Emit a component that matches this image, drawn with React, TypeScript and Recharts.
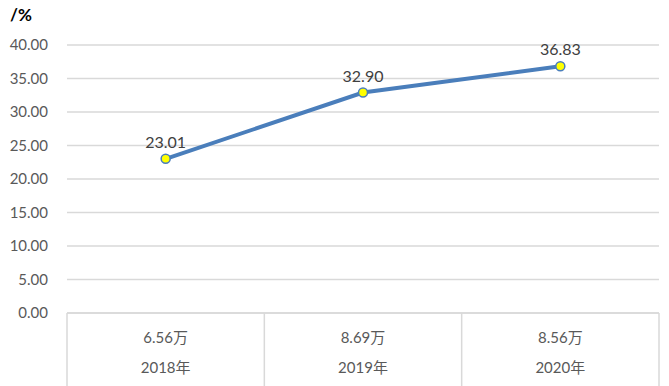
import { LineChart, Line, XAxis, YAxis, CartesianGrid, LabelList } from "recharts";

const years = ["2018年", "2019年", "2020年"];
const counts = ["6.56万", "8.69万", "8.56万"];
const rates = [23.01, 32.9, 36.83];
const yTicks = [0, 5, 10, 15, 20, 25, 30, 35, 40];

const data = years.map((year, i) => ({ year, count: counts[i], rate: rates[i] }));

const W = 669;
const H = 386;
const LEFT = 67;
const RIGHT = 659;
const AXIS_Y = 313;
const BAND = (RIGHT - LEFT) / years.length;
const GRID = "#d9d9d9";
const FONT = "Lato, 'Noto Sans CJK SC', sans-serif";

function CategoryTick(props: any) {
  const { x, payload, index } = props;
  const i = index ?? years.indexOf(payload.value);
  return (
    <g>
      {i === 0 && <line x1={x - BAND / 2} x2={x - BAND / 2} y1={AXIS_Y} y2={H} stroke={GRID} strokeWidth={1.5} />}
      <line x1={x + BAND / 2} x2={x + BAND / 2} y1={AXIS_Y} y2={H} stroke={GRID} strokeWidth={1.5} />
      <text x={x} y={AXIS_Y + 24} textAnchor="middle" dominantBaseline="central" fill="#595959" fontSize={15} fontFamily={FONT}>
        {counts[i]}
      </text>
      <text x={x} y={AXIS_Y + 54} textAnchor="middle" dominantBaseline="central" fill="#595959" fontSize={15} fontFamily={FONT}>
        {payload.value}
      </text>
    </g>
  );
}

export default function App() {
  return (
    <div style={{ position: "relative", width: W, height: H, background: "#fff" }}>
      <style>{`body{margin:0}`}</style>
      <div
        style={{
          position: "absolute",
          left: 10,
          top: 4,
          fontFamily: FONT,
          fontWeight: 700,
          fontSize: 17,
          color: "#000",
        }}
      >
        /%
      </div>
      <LineChart width={W} height={H} data={data} margin={{ top: 45, right: W - RIGHT, bottom: 0, left: 0 }}>
        <CartesianGrid vertical={false} stroke={GRID} strokeWidth={1.5} />
        <XAxis
          dataKey="year"
          scale="band"
          height={H - AXIS_Y}
          axisLine={{ stroke: GRID, strokeWidth: 1.5 }}
          tickLine={false}
          interval={0}
          tick={<CategoryTick />}
        />
        <YAxis
          domain={[0, 40]}
          ticks={yTicks}
          width={LEFT}
          axisLine={false}
          tickLine={false}
          tickSize={0}
          tickMargin={19}
          tickFormatter={(v: number) => v.toFixed(2)}
          tick={{ fill: "#595959", fontSize: 15, fontFamily: FONT }}
        />
        <Line
          dataKey="rate"
          stroke="#4a7ebb"
          strokeWidth={4}
          dot={{ r: 4.5, fill: "#ffff00", stroke: "#4a7ebb", strokeWidth: 1.5 }}
          isAnimationActive={false}
        >
          <LabelList
            dataKey="rate"
            position="top"
            offset={11}
            formatter={(v: any) => Number(v).toFixed(2)}
            style={{ fill: "#404040", fontSize: 16, fontFamily: FONT }}
          />
        </Line>
      </LineChart>
    </div>
  );
}
